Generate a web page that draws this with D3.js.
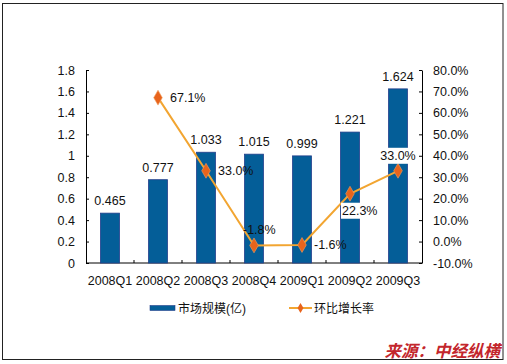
<!DOCTYPE html>
<html><head><meta charset="utf-8">
<script src="https://cdn.jsdelivr.net/npm/d3@7/dist/d3.min.js"></script>
<style>body{margin:0;background:#fff}svg{display:block}text{font-family:Arial,"Liberation Sans","Noto Sans CJK SC",sans-serif}</style>
</head><body><svg id="c" width="507" height="364"></svg>
<script>
const categories = ["2008Q1","2008Q2","2008Q3","2008Q4","2009Q1","2009Q2","2009Q3"];
const marketSize = [0.465,0.777,1.033,1.015,0.999,1.221,1.624];
const growthRate = [null,67.1,33.0,-1.8,-1.6,22.3,33.0];
const leftTicks = [0,0.2,0.4,0.6,0.8,1,1.2,1.4,1.6,1.8];
const rightTicks = [-10,0,10,20,30,40,50,60,70,80];
const seriesNames = ["市场规模(亿)","环比增长率"];
const sourceText = "来源：中经纵横";

const svg = d3.select("#c");
const L = 86, R = 422, T = 70, B = 263;
svg.append("rect").attr("x",2.5).attr("y",3.5).attr("width",500.5).attr("height",356).attr("fill","#fff").attr("stroke","#222").attr("stroke-width",1);

const xc = d3.scaleBand().domain(categories).range([L,R]);
const yL = d3.scaleLinear().domain([0,1.8]).range([B,T]);
const yR = d3.scaleLinear().domain([-10,80]).range([B,T]);

// axes
const axL = d3.axisLeft(yL).tickValues(leftTicks).tickSizeInner(-3).tickSizeOuter(0).tickPadding(11).tickFormat(d=>d3.format("")(+d.toFixed(1)));
const gL = svg.append("g").attr("transform",`translate(${L},0)`).call(axL);
const axR = d3.axisRight(yR).tickValues(rightTicks).tickSizeInner(-3).tickSizeOuter(0).tickPadding(11).tickFormat(d=>d.toFixed(1)+"%");
const gR = svg.append("g").attr("transform",`translate(${R},0)`).call(axR);
const gX = svg.append("g").attr("transform",`translate(0,${B})`);
gX.append("line").attr("x1",L).attr("x2",R).attr("y1",0).attr("y2",0).attr("stroke","#000");
gX.selectAll("line.t").data(categories.slice(1)).join("line").attr("class","t")
  .attr("x1",d=>xc(d)).attr("x2",d=>xc(d)).attr("y1",0).attr("y2",-3).attr("stroke","#000");
gX.selectAll("text").data(categories).join("text")
  .attr("x",d=>xc(d)+xc.bandwidth()/2).attr("y",22).attr("text-anchor","middle")
  .attr("font-size",12.5).attr("fill","#111").text(d=>d);
[gL,gR].forEach(g=>{g.select(".domain").attr("stroke","#000");g.selectAll(".tick line").attr("stroke","#000");g.selectAll("text").attr("font-size",12.5).attr("fill","#111");});

// bars
const barW = 19;
const cx = d=>xc(d)+xc.bandwidth()/2;
svg.selectAll("rect.bar").data(categories).join("rect").attr("class","bar")
  .attr("x",(d)=>cx(d)-barW/2).attr("width",barW)
  .attr("y",(d,i)=>yL(marketSize[i])).attr("height",(d,i)=>B-yL(marketSize[i]))
  .attr("fill","#045e98").attr("stroke","#233f8c").attr("stroke-width",0.8);
svg.selectAll("text.val").data(categories).join("text").attr("class","val")
  .attr("x",d=>cx(d)).attr("y",(d,i)=>yL(marketSize[i])-8).attr("text-anchor","middle")
  .attr("font-size",12.5).attr("fill","#111").text((d,i)=>marketSize[i].toFixed(3));

// line
const pts = categories.map((c,i)=>({c,v:growthRate[i],i})).filter(p=>p.v!==null);
svg.append("path").datum(pts).attr("fill","none").attr("stroke","#f2a531").attr("stroke-width",2)
  .attr("d",d3.line().x(p=>cx(p.c)).y(p=>yR(p.v)));
svg.selectAll("path.mk").data(pts).join("path").attr("class","mk")
  .attr("transform",p=>`translate(${cx(p.c)},${yR(p.v)})`)
  .attr("d",d3.symbol(d3.symbolDiamond,64)).attr("fill","#e8641c").attr("stroke","#f0a060").attr("stroke-width",0.6);

// label placement: [dx, dy, anchor, whiteBg]
const place = {1:[12,4,"start",false],2:[12,4,"start",false],3:[-11,-11,"start",false],4:[12,4,"start",false],5:[-8,21,"start",true],6:[0,-11,"middle",true]};
pts.forEach(p=>{
  const [dx,dy,anc,bg] = place[p.i];
  const t = svg.append("text").attr("x",cx(p.c)+dx).attr("y",yR(p.v)+dy).attr("text-anchor",anc)
    .attr("font-size",12.5).attr("fill","#111").text(p.v.toFixed(1)+"%");
  if(bg){const b=t.node().getBBox();svg.insert("rect",()=>t.node()).attr("x",b.x-1).attr("y",b.y-1).attr("width",b.width+2).attr("height",b.height+2).attr("fill","#fff");}
});

// legend
const lg = svg.append("g");
lg.append("rect").attr("x",150).attr("y",305.5).attr("width",25).attr("height",5).attr("fill","#045e98").attr("stroke","#233f8c").attr("stroke-width",0.6);
lg.append("text").attr("x",178).attr("y",312.5).attr("font-size",12).attr("fill","#111").text(seriesNames[0]);
lg.append("line").attr("x1",289).attr("x2",312).attr("y1",308).attr("y2",308).attr("stroke","#f2a531").attr("stroke-width",2);
lg.append("path").attr("transform","translate(300.5,308)").attr("d",d3.symbol(d3.symbolDiamond,30)).attr("fill","#e8641c");
lg.append("text").attr("x",314).attr("y",312.5).attr("font-size",12).attr("fill","#111").text(seriesNames[1]);

svg.append("text").attr("x",500).attr("y",357).attr("text-anchor","end").attr("font-size",16.5)
  .attr("font-weight","bold").attr("font-style","italic").attr("fill","#c3262c")
  .style("font-family","'Noto Sans CJK SC',sans-serif").text(sourceText);
</script></body></html>
